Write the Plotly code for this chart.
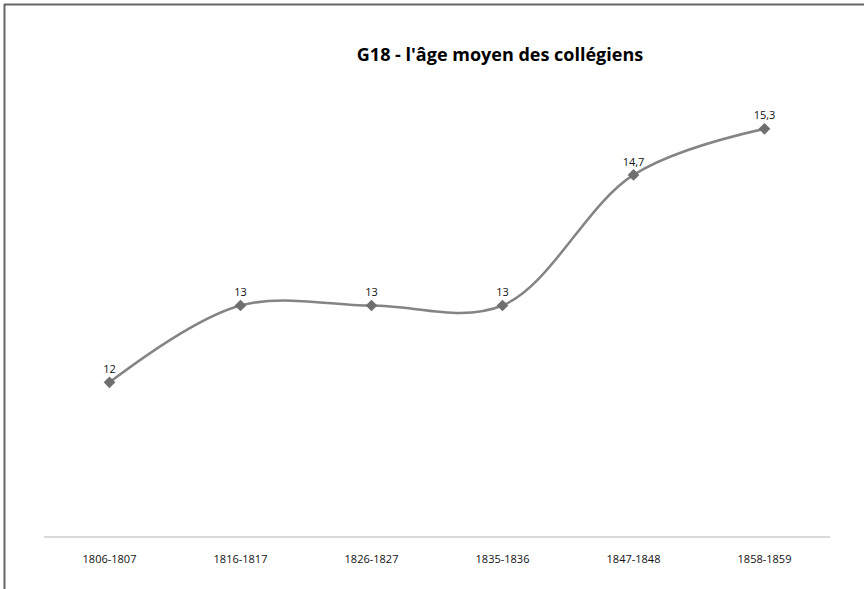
import plotly.graph_objects as go

categories = ["1806-1807", "1816-1817", "1826-1827", "1835-1836", "1847-1848", "1858-1859"]
ages = [12, 13, 13, 13, 14.7, 15.3]
title_text = "G18 - l'âge moyen des collégiens"

labels = [(f"{v:g}").replace(".", ",") for v in ages]

fig = go.Figure()
fig.add_trace(go.Scatter(
    x=categories, y=ages,
    mode="lines+markers+text",
    line=dict(color="#848484", width=2.5, shape="spline", smoothing=1.0),
    marker=dict(symbol="diamond", size=9, color="#6f6f6f"),
    text=labels, textposition="top center",
    textfont=dict(family="Open Sans, sans-serif", size=11, color="#111111"),
    cliponaxis=False,
    hoverinfo="skip",
))

fig.update_layout(
    width=864, height=589,
    margin=dict(l=44, r=34, t=75, b=53),
    paper_bgcolor="white", plot_bgcolor="white",
    showlegend=False,
    title=dict(text=title_text, x=500/864, xanchor="center", y=1 - 55/589, yanchor="middle",
               font=dict(family="Open Sans, sans-serif", size=18, color="#000000", weight="bold")),
    xaxis=dict(type="category", range=[-0.5, 5.5], showgrid=False, zeroline=False,
               showline=True, linecolor="#d9d9d9", linewidth=2, ticks="",
               tickfont=dict(family="Open Sans, sans-serif", size=11, color="#111111"),
               ticklabelstandoff=12),
    yaxis=dict(range=[10, 16], visible=False),
    shapes=[
        dict(type="line", xref="paper", yref="paper",
             x0=(4 - 44) / 786, x1=(870 - 44) / 786,
             y0=(536 - 4.5) / 461, y1=(536 - 4.5) / 461,
             line=dict(color="#666666", width=2)),
        dict(type="line", xref="paper", yref="paper",
             x0=(4.5 - 44) / 786, x1=(4.5 - 44) / 786,
             y0=(536 - 4) / 461, y1=(536 - 600) / 461,
             line=dict(color="#666666", width=2)),
    ],
)

fig.write_html("out.html", config={"displayModeBar": False},
               post_script="document.body.style.margin='0';document.body.style.overflow='hidden';")
